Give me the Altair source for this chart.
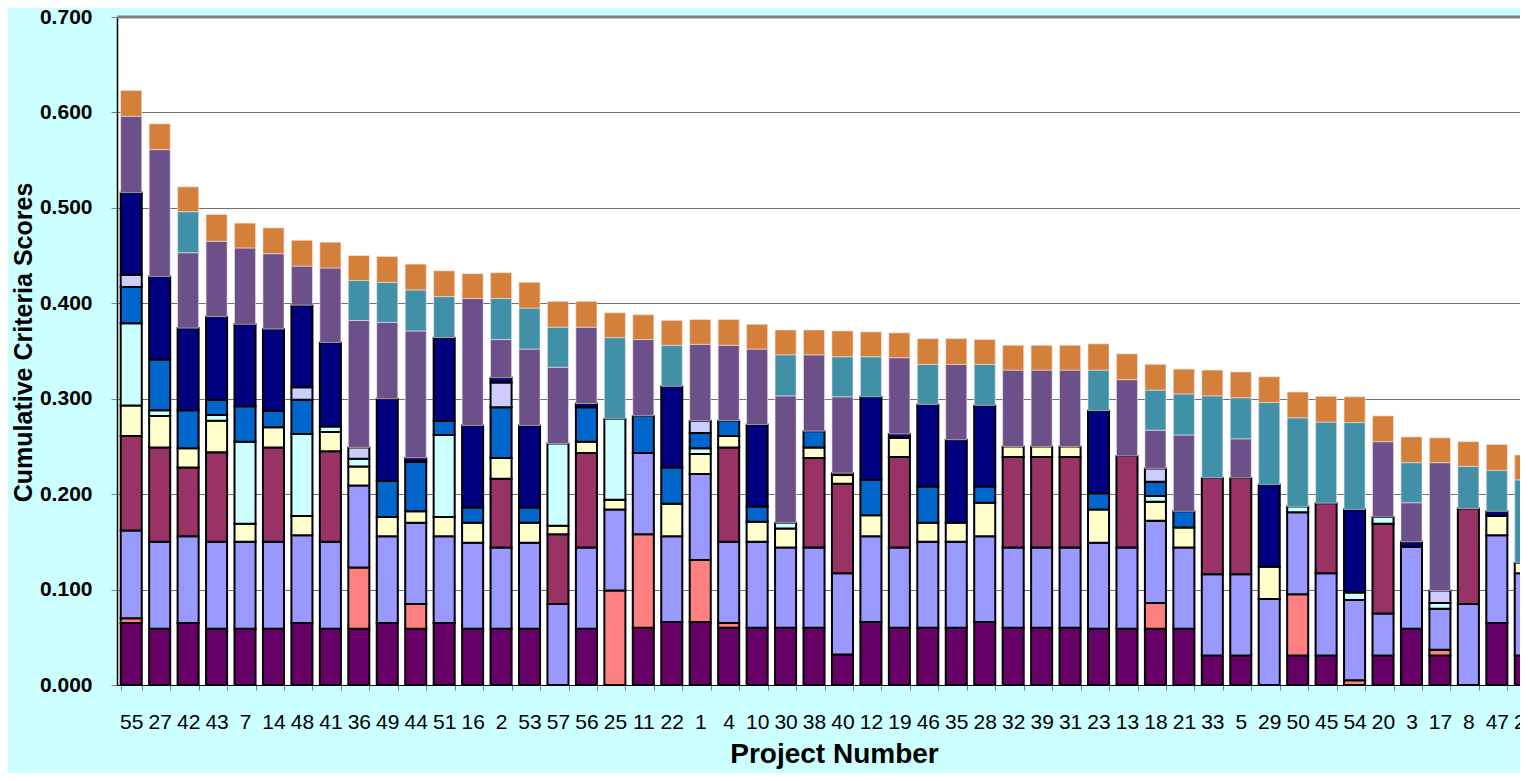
import altair as alt
import pandas as pd

projects = [55, 27, 42, 43, 7, 14, 48, 41, 36, 49, 44, 51, 16, 2, 53, 57, 56, 25, 11, 22,
            1, 4, 10, 30, 38, 40, 12, 19, 46, 35, 28, 32, 39, 31, 23, 13, 18, 21, 33, 5,
            29, 50, 45, 54, 20, 3, 17, 8, 47, 24]

series_names = ["Criterion 1", "Criterion 2", "Criterion 3", "Criterion 4", "Criterion 5",
                "Criterion 6", "Criterion 7", "Criterion 8", "Criterion 9", "Criterion 10",
                "Criterion 11", "Criterion 12"]

colors = ["#660066", "#FF8080", "#9999FF", "#993366", "#FFFFCC", "#CCFFFF",
          "#0066CC", "#CCCCFF", "#000080", "#6B5089", "#4091A8", "#D47F3A"]

s1 = [.065, .059, .065, .059, .059, .059, .065, .059, .059, .065,
      .059, .065, .059, .059, .059, 0, .059, 0, .060, .066,
      .066, .060, .060, .060, .060, .032, .066, .060, .060, .060,
      .066, .060, .060, .060, .059, .059, .059, .059, .031, .031,
      0, .031, .031, 0, .031, .059, .031, 0, .065, .031]
s2 = [.005, 0, 0, 0, 0, 0, 0, 0, .064, 0,
      .026, 0, 0, 0, 0, 0, 0, .099, .098, 0,
      .065, .005, 0, 0, 0, 0, 0, 0, 0, 0,
      0, 0, 0, 0, 0, 0, .027, 0, 0, 0,
      0, .064, 0, .005, 0, 0, .006, 0, 0, 0]
s3 = [.092, .091, .091, .091, .091, .091, .092, .091, .086, .091,
      .085, .091, .090, .085, .090, .085, .085, .085, .085, .090,
      .090, .085, .090, .084, .084, .085, .090, .084, .090, .090,
      .090, .084, .084, .084, .090, .085, .086, .085, .085, .085,
      .090, .086, .086, .084, .044, .086, .043, .085, .092, .086]
s4 = [.099, .099, .072, .094, 0, .099, 0, .095, 0, 0,
      0, 0, 0, .072, 0, .073, .099, 0, 0, 0,
      0, .099, 0, 0, .094, .094, 0, .095, 0, 0,
      0, .095, .095, .095, 0, .096, 0, 0, .101, .101,
      0, 0, .0735, 0, .094, 0, 0, .100, 0, 0]
s5 = [.032, .033, .020, .033, .019, .021, .020, .020, .020, .020,
      .012, .020, .021, .022, .021, .009, .012, .010, 0, .034,
      .021, .012, .021, .020, .011, .009, .022, .020, .020, .020,
      .035, .011, .011, .011, .035, 0, .020, .021, 0, 0,
      .034, 0, 0, 0, 0, 0, 0, 0, .020, .011]
s6 = [.086, .006, 0, .006, .086, 0, .086, .006, .008, 0,
      0, .086, 0, 0, 0, .086, 0, .085, 0, 0,
      .006, 0, 0, .006, 0, 0, 0, 0, 0, 0,
      0, 0, 0, 0, 0, 0, .006, 0, 0, 0,
      0, .006, 0, .008, .007, 0, .006, 0, 0, 0]
s7 = [.038, .053, .040, .016, .037, .017, .036, 0, 0, .038,
      .052, .015, .016, .053, .016, 0, .036, 0, .039, .038,
      .016, .016, .016, 0, .017, 0, .037, 0, .038, 0,
      .017, 0, 0, 0, .017, 0, .015, .017, 0, 0,
      0, 0, 0, 0, 0, 0, 0, 0, 0, 0]
s8 = [.013, 0, 0, 0, 0, 0, .013, 0, .012, 0,
      0, 0, 0, .026, 0, 0, 0, 0, 0, 0,
      .013, 0, 0, 0, 0, 0, 0, 0, 0, 0,
      0, 0, 0, 0, 0, 0, .014, 0, 0, 0,
      0, 0, 0, 0, 0, 0, .013, 0, 0, 0]
s9 = [.086, .087, .086, .087, .086, .086, .086, .088, 0, .086,
      .004, .087, .086, .005, .086, 0, .004, 0, 0, .085,
      0, 0, .086, 0, 0, .002, .087, .004, .086, .087,
      .085, 0, 0, 0, .0865, 0, 0, 0, 0, 0,
      .086, 0, 0, .087, 0, .005, 0, 0, .005, 0]
s10 = [.080, .133, .079, .079, .080, .079, .041, .078, .133, .080,
       .133, 0, .133, .040, .080, .080, .080, 0, .080, 0,
       .080, .079, .079, .133, .080, .080, 0, .080, 0, .079,
       0, .080, .080, .080, 0, .080, .040, .080, 0, .041,
       0, 0, 0, 0, .079, .041, .134, 0, 0, 0]
s11 = [0, 0, .043, 0, 0, 0, 0, 0, .042, .042,
       .043, .043, 0, .043, .043, .042, 0, .085, 0, .043,
       0, 0, 0, .043, 0, .042, .042, 0, .042, 0,
       .043, 0, 0, 0, .0425, 0, .042, .043, .086, .043,
       .086, .093, .085, .091, 0, .042, 0, .044, .043, .087]
s12 = [.027, .027, .026, .028, .026, .027, .027, .027, .026, .027,
       .027, .027, .026, .027, .027, .027, .027, .026, .026, .026,
       .026, .027, .026, .026, .026, .027, .026, .026, .027, .027,
       .026, .026, .026, .026, .0275, .027, .027, .026, .027, .027,
       .027, .027, .027, .027, .027, .027, .026, .026, .027, .026]

series_values = [s1, s2, s3, s4, s5, s6, s7, s8, s9, s10, s11, s12]
y_ticks = [0.0, 0.1, 0.2, 0.3, 0.4, 0.5, 0.6, 0.7]

rows = []
for k, (name, vals) in enumerate(zip(series_names, series_values)):
    for p, v in zip(projects, vals):
        if v > 0:
            rows.append({"project": str(p), "series": name, "k": k, "value": v})
df = pd.DataFrame(rows)

FONT = "Liberation Sans"
n = len(projects)
step = 28.45

bars = alt.Chart(df).mark_bar(strokeJoin="miter").encode(
    x=alt.X("project:N",
            sort=[str(p) for p in projects],
            scale=alt.Scale(range=[0, step * n], paddingInner=0.26, paddingOuter=0.13),
            axis=alt.Axis(labelAngle=0, labelFont=FONT, labelFontSize=21, labelColor="black",
                          labelPadding=21, labelOverlap=False, tickSize=5, tickColor="#808080",
                          tickBand="extent", domainColor="black", domainWidth=1, grid=False,
                          title="Project Number", titleFont=FONT, titleFontSize=28,
                          titleFontWeight="bold", titleColor="black", titlePadding=8,
                          titleX=717)),
    y=alt.Y("value:Q", stack="zero",
            scale=alt.Scale(domain=[0, 0.7], nice=False),
            axis=alt.Axis(values=y_ticks, format=".3f", labelFont=FONT, labelFontSize=21,
                          labelFontWeight="bold", labelColor="black", labelPadding=19,
                          tickSize=6, tickColor="#808080", domainColor="black", domainWidth=1.5,
                          grid=True, gridColor="#707070", gridWidth=1,
                          title="Cumulative Criteria Scores", titleFont=FONT, titleFontSize=25,
                          titleFontWeight="bold", titleColor="black", titlePadding=3,
                          titleY=325)),
    color=alt.Color("series:N", scale=alt.Scale(domain=series_names, range=colors), legend=None),
    order=alt.Order("k:Q", sort="ascending"),
    stroke=alt.condition("datum.k < 9", alt.value("#000000"), alt.value("#F3E3E3")),
    strokeWidth=alt.condition("datum.k < 9", alt.value(2), alt.value(0.6)),
)

top_line = alt.Chart(pd.DataFrame({"v": [0.7]})).mark_rule(color="#808080", strokeWidth=3).encode(
    y=alt.datum(0.7)
)

chart = alt.layer(bars, top_line).properties(
    width=1403,
    height=668,
    autosize=alt.AutoSizeParams(type="none"),
    padding={"left": 109, "top": 9, "right": 0, "bottom": 88},
    background="#CCFFFF",
).configure_view(fill="white", stroke="transparent")

chart.save("out.html", embed_options={"renderer": "svg", "actions": False})
